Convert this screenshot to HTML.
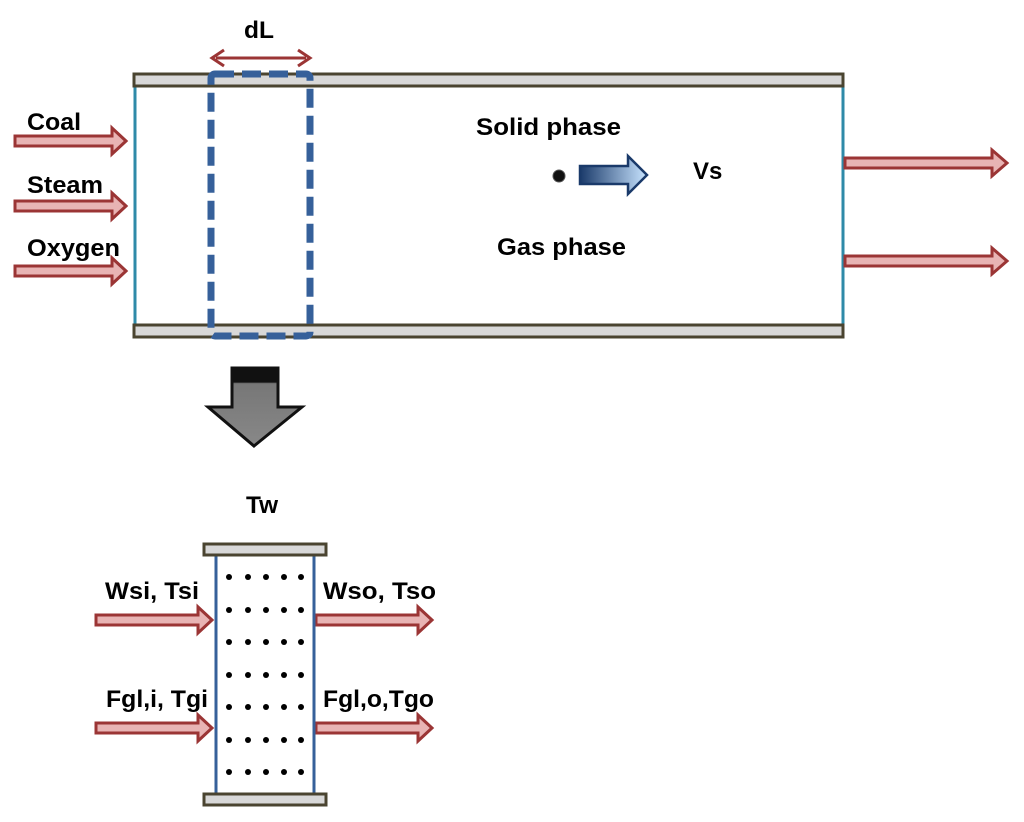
<!DOCTYPE html>
<html><head><meta charset="utf-8"><style>
html,body{margin:0;padding:0;background:#fff;width:1024px;height:822px;overflow:hidden}
text{font-family:"Liberation Sans",sans-serif;font-weight:bold;font-size:24px;fill:#000}
</style></head><body>
<svg width="1024" height="822" viewBox="0 0 1024 822" xmlns="http://www.w3.org/2000/svg">
<defs>
<linearGradient id="bg" x1="0" x2="1" y1="0" y2="0"><stop offset="0" stop-color="#1a3a6a"/><stop offset="1" stop-color="#c8e4ff"/></linearGradient>
<linearGradient id="gg" x1="0" x2="0" y1="0" y2="1"><stop offset="0" stop-color="#111"/><stop offset="0.18" stop-color="#111"/><stop offset="0.2" stop-color="#777"/><stop offset="1" stop-color="#888"/></linearGradient>
</defs>
<line x1="135" y1="86" x2="135" y2="325" stroke="#2e8aa8" stroke-width="3"/>
<line x1="843" y1="86" x2="843" y2="325" stroke="#2e8aa8" stroke-width="3"/>
<rect x="134" y="74" width="709" height="12" fill="#d8d8d8" stroke="#4a4430" stroke-width="3"/>
<rect x="134" y="325" width="709" height="12" fill="#d8d8d8" stroke="#4a4430" stroke-width="3"/>
<rect x="211" y="74" width="99" height="262" rx="4" fill="none" stroke="#36609a" stroke-width="7" stroke-dasharray="19,8"/>
<line x1="216" y1="58" x2="306" y2="58" stroke="#9b3535" stroke-width="3"/>
<polyline points="224,50 212,58 224,66" fill="none" stroke="#9b3535" stroke-width="3"/>
<polyline points="298,50 310,58 298,66" fill="none" stroke="#9b3535" stroke-width="3"/>
<text x="244" y="38" textLength="30" lengthAdjust="spacingAndGlyphs">dL</text>
<g fill="#e8b4b4" stroke="#9b3535" stroke-width="3">
<polygon points="15,136 112,136 112,128 126,141 112,154 112,146 15,146"/>
<polygon points="15,201 112,201 112,193 126,206 112,219 112,211 15,211"/>
<polygon points="15,266 112,266 112,258 126,271 112,284 112,276 15,276"/>
<polygon points="845,158 992,158 992,150 1007,163 992,176 992,168 845,168"/>
<polygon points="845,256 992,256 992,248 1007,261 992,274 992,266 845,266"/>
<polygon points="96,615 198,615 198,607 212,620 198,633 198,625 96,625"/>
<polygon points="96,723 198,723 198,715 212,728 198,741 198,733 96,733"/>
<polygon points="316,615 418,615 418,607 432,620 418,633 418,625 316,625"/>
<polygon points="316,723 418,723 418,715 432,728 418,741 418,733 316,733"/>
</g>
<text x="27" y="130" textLength="54" lengthAdjust="spacingAndGlyphs">Coal</text>
<text x="27" y="193" textLength="76" lengthAdjust="spacingAndGlyphs">Steam</text>
<text x="27" y="256" textLength="93" lengthAdjust="spacingAndGlyphs">Oxygen</text>
<text x="476" y="135" textLength="145" lengthAdjust="spacingAndGlyphs">Solid  phase</text>
<text x="497" y="255" textLength="129" lengthAdjust="spacingAndGlyphs">Gas phase</text>
<text x="693" y="179">Vs</text>
<circle cx="559" cy="176" r="6" fill="#111" stroke="#555" stroke-width="1"/>
<polygon points="580,166 628,166 628,156 647,175 628,194 628,184 580,184" fill="url(#bg)" stroke="#1a3a6a" stroke-width="2.5"/>
<polygon points="232,368 278,368 278,407 302,407 254,446 208,407 232,407" fill="url(#gg)" stroke="#111" stroke-width="3"/>
<text x="246" y="513" textLength="32" lengthAdjust="spacingAndGlyphs">Tw</text>
<line x1="216" y1="555" x2="216" y2="793" stroke="#36609a" stroke-width="3"/>
<line x1="314" y1="555" x2="314" y2="793" stroke="#36609a" stroke-width="3"/>
<rect x="204" y="544" width="122" height="11" fill="#d8d8d8" stroke="#4a4430" stroke-width="3"/>
<rect x="204" y="794" width="122" height="11" fill="#d8d8d8" stroke="#4a4430" stroke-width="3"/>
<g fill="#000">
<g id="row"><circle cx="229" cy="577" r="3"/><circle cx="248" cy="577" r="3"/><circle cx="266" cy="577" r="3"/><circle cx="284" cy="577" r="3"/><circle cx="301" cy="577" r="3"/></g>
<use href="#row" y="33"/><use href="#row" y="65"/><use href="#row" y="98"/><use href="#row" y="130"/><use href="#row" y="163"/><use href="#row" y="195"/>
</g>
<text x="105" y="599" textLength="94" lengthAdjust="spacingAndGlyphs">Wsi,  Tsi</text>
<text x="106" y="707" textLength="102" lengthAdjust="spacingAndGlyphs">Fgl,i,  Tgi</text>
<text x="323" y="599" textLength="113" lengthAdjust="spacingAndGlyphs">Wso, Tso</text>
<text x="323" y="707" textLength="111" lengthAdjust="spacingAndGlyphs">Fgl,o,Tgo</text>
</svg>
</body></html>
